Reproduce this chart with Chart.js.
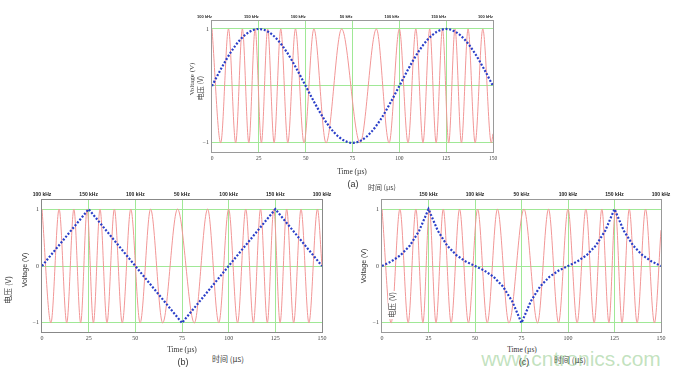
<!DOCTYPE html>
<html>
<head>
<meta charset="utf-8">
<script src="https://cdn.jsdelivr.net/npm/chart.js@4.4.1/dist/chart.umd.min.js"></script>
<style>
  body { margin: 0; background: #fff; width: 680px; height: 375px; overflow: hidden; position: relative; }
  canvas { position: absolute; }
  .t { position: absolute; white-space: nowrap; transform: translate(-50%, -50%); color: #333; line-height: 1; }
  .r { transform: translate(-50%, -50%) rotate(-90deg); }
  .serif { font-family: "Liberation Serif", "DejaVu Serif", serif; }
  .sans { font-family: "Liberation Sans", Arial, sans-serif; }
  .cjk { font-family: "Noto Sans CJK SC", sans-serif; color: #444; }
</style>
</head>
<body>
<canvas id="chart-a" width="330" height="170" style="left:180px;top:0px"></canvas>
<canvas id="chart-b" width="340" height="160" style="left:0px;top:185px"></canvas>
<canvas id="chart-c" width="340" height="160" style="left:340px;top:185px"></canvas>

<!-- panel (a) texts -->
<div class="t serif" style="left:352px;top:172px;font-size:7.5px">Time (µs)</div>
<div class="t sans" style="left:353px;top:184px;font-size:9px">(a)</div>
<div class="t cjk" style="left:382px;top:187px;font-size:7px">时间 (µs)</div>
<div class="t r serif" style="left:192px;top:79px;font-size:7px">Voltage (V)</div>
<div class="t r cjk" style="left:199.5px;top:88px;font-size:7px">电压 (V)</div>

<!-- panel (b) texts -->
<div class="t serif" style="left:182px;top:350px;font-size:7.5px">Time (µs)</div>
<div class="t sans" style="left:183px;top:362px;font-size:9px">(b)</div>
<div class="t cjk" style="left:228px;top:359px;font-size:8px">时间 (µs)</div>
<div class="t r sans" style="left:24px;top:270px;font-size:7px">Voltage (V)</div>
<div class="t r cjk" style="left:8px;top:290px;font-size:8px">电压 (V)</div>

<!-- panel (c) texts -->
<div class="t serif" style="left:522px;top:350px;font-size:7.5px">Time (µs)</div>
<div class="t sans" style="left:524px;top:362px;font-size:9px">(c)</div>
<div class="t cjk" style="left:570px;top:360px;font-size:8px">时间 (µs)</div>
<div class="t r sans" style="left:363px;top:266px;font-size:7px">Voltage (V)</div>
<div class="t r cjk" style="left:392px;top:305px;font-size:7.5px;background:#fff;padding:0 1px">电压 (V)</div>
<div class="t sans" style="left:571px;top:358px;font-size:21px;color:rgba(110,185,100,0.42)">www.cntronics.com</div>

<script>
/* =====================
  Data
===================== */

// time axis (µs), same for the three panels
var xTicks = [0, 25, 50, 75, 100, 125, 150];
var xTickLabels = ['0', '25', '50', '75', '100', '125', '150'];
var yTicks = [-1, 0, 1];
var yTickLabelsA = ['\u2212' + '1', '', '1'];
var yTickLabelsBC = ['\u2212' + '1', '0', '1'];

// instantaneous frequency written above each plot
var freqLabelsA = ['100 kHz', '150 kHz', '100 kHz', '50 kHz', '100 kHz', '150 kHz', '100 kHz'];
var freqLabelsB = ['100 kHz', '150 kHz', '100 kHz', '50 kHz', '100 kHz', '150 kHz', '100 kHz'];
var freqLabelsC = ['', '150 kHz', '100 kHz', '50 kHz', '100 kHz', '150 kHz', '100 kHz'];

// modulating signals (blue dots)
var modTime = [0, 5, 10, 15, 20, 25, 30, 35, 40, 45, 50, 55, 60, 65, 70, 75, 80, 85, 90, 95, 100,
               105, 110, 115, 120, 125, 130, 135, 140, 145, 150];
var modA = [0, 0.31, 0.59, 0.81, 0.95, 1, 0.95, 0.81, 0.59, 0.31, 0, -0.31, -0.59, -0.81, -0.95, -1,
            -0.95, -0.81, -0.59, -0.31, 0, 0.31, 0.59, 0.81, 0.95, 1, 0.95, 0.81, 0.59, 0.31, 0];
var modTimeB = [0, 25, 75, 125, 150];
var modB = [0, 1, -1, 1, 0];
var modC = [0, 0.08, 0.19, 0.36, 0.62, 1, 0.62, 0.36, 0.19, 0.08, 0, -0.08, -0.19, -0.36, -0.62, -1,
            -0.62, -0.36, -0.19, -0.08, 0, 0.08, 0.19, 0.36, 0.62, 1, 0.62, 0.36, 0.19, 0.08, 0];

// FM carrier (red): where each peak / trough sits, and its level
var fmTimeA = [0, 4.65, 8.81, 12.63, 16.22, 19.66, 23.03, 26.36, 29.72, 33.15, 36.7, 40.47, 44.55, 49.1,
               54.39, 60.87, 69.2, 79.05, 87.76, 94.54, 100, 104.65, 108.81, 112.63, 116.22, 119.66,
               123.03, 126.36, 129.72, 133.15, 136.7, 140.47, 144.55, 149.1, 150];
var fmA = [1, -1, 1, -1, 1, -1, 1, -1, 1, -1, 1, -1, 1, -1, 1, -1, 1, -1, 1, -1, 1, -1, 1, -1, 1, -1,
           1, -1, 1, -1, 1, -1, 1, -1, -0.84];
var fmTimeB = [0, 4.77, 9.16, 13.25, 17.08, 20.71, 24.16, 27.54, 31.08, 34.81, 38.76, 42.99, 47.56, 52.57,
               58.17, 64.64, 72.61, 81.62, 88.73, 94.72, 100, 104.77, 109.16, 113.25, 117.08, 120.71,
               124.16, 127.54, 131.08, 134.81, 138.76, 142.99, 147.56, 150];
var fmB = [1, -1, 1, -1, 1, -1, 1, -1, 1, -1, 1, -1, 1, -1, 1, -1, 1, -1, 1, -1, 1, -1, 1, -1, 1, -1,
           1, -1, 1, -1, 1, -1, 1, 0];
var fmTimeC = [0, 4.91, 9.62, 14.07, 18.21, 22.01, 25.48, 29.03, 32.93, 37.16, 41.69, 46.46, 51.43, 56.58,
               62.07, 68.22, 76.34, 83.64, 89.54, 94.91, 100, 104.91, 109.62, 114.07, 118.21, 122.01,
               125.48, 129.03, 132.93, 137.16, 141.69, 146.46, 150];
var fmC = [1, -1, 1, -1, 1, -1, 1, -1, 1, -1, 1, -1, 1, -1, 1, -1, 1, -1, 1, -1, 1, -1, 1, -1, 1, -1,
           1, -1, 1, -1, 1, -1, 0.63];

/* =====================
  Chart setup
===================== */

var gridGreen = 'rgb(160,232,150)';

// grey box round the plot area
var framePlugin = {
  id: 'frame',
  beforeDatasetsDraw: function(chart, args, opts) {
    var a = chart.chartArea;
    var ctx = chart.ctx;
    ctx.save();
    ctx.strokeStyle = opts.color;
    ctx.lineWidth = 1;
    ctx.strokeRect(Math.round(a.left) - 0.5, Math.round(a.top) - 0.5,
                   Math.round(a.right - a.left) + 1, Math.round(a.bottom - a.top) + 1);
    ctx.restore();
  }
};

var toPoints = function(xs, ys) {
  return xs.map(function(x, i) { return {x: x, y: ys[i]}; });
};

var fmChart = function(id, p) {
  return new Chart(document.getElementById(id), {
    type: 'line',
    data: {
      datasets: [{
        data: toPoints(p.modT, p.mod),
        borderColor: '#2a3ec8',
        borderWidth: 2.2,
        borderDash: [2, 1.7],
        pointRadius: 0,
        tension: 0,
        cubicInterpolationMode: p.smoothMod ? 'monotone' : 'default'
      }, {
        data: toPoints(p.fmT, p.fm),
        borderColor: 'rgb(242,150,150)',
        borderWidth: 1,
        pointRadius: 0,
        cubicInterpolationMode: 'monotone'
      }]
    },
    options: {
      responsive: false,
      animation: false,
      events: [],
      layout: {padding: {right: p.right}},
      plugins: {
        legend: {display: false},
        tooltip: {enabled: false},
        frame: {color: p.frameColor}
      },
      scales: {
        x: {
          type: 'linear', position: 'bottom', min: 0, max: 150,
          afterBuildTicks: function(s) { s.ticks = xTicks.map(function(v) { return {value: v}; }); },
          afterFit: function(s) { s.height = p.bottom; },
          border: {display: false},
          grid: {
            drawTicks: false,
            color: function(c) {
              return (c.tick && c.tick.value > 0 && c.tick.value < 150) ? gridGreen : 'rgba(0,0,0,0)';
            }
          },
          ticks: {
            padding: 3, color: '#444',
            font: {family: 'Liberation Serif', size: p.tickSize},
            callback: function(v, i) { return xTickLabels[i]; }
          }
        },
        x2: {
          type: 'linear', position: 'top', min: 0, max: 150,
          afterBuildTicks: function(s) { s.ticks = xTicks.map(function(v) { return {value: v}; }); },
          afterFit: function(s) { s.height = p.top; },
          border: {display: false},
          grid: {display: false, drawTicks: false},
          ticks: {
            padding: 2, color: '#222', align: p.freqAlign,
            font: {family: 'Liberation Sans', size: p.freqSize, weight: 'bold'},
            callback: function(v, i) { return p.freqLabels[i]; }
          }
        },
        y: {
          min: p.ymin, max: p.ymax,
          afterBuildTicks: function(s) { s.ticks = yTicks.map(function(v) { return {value: v}; }); },
          afterFit: function(s) { s.width = p.left; },
          border: {display: false},
          grid: {drawTicks: false, color: gridGreen},
          ticks: {
            padding: 3, color: '#444',
            font: {family: 'Liberation Serif', size: 6},
            callback: function(v, i) { return p.yLabels[i]; }
          }
        }
      }
    },
    plugins: [framePlugin]
  });
};

fmChart('chart-a', {
  modT: modTime, mod: modA, smoothMod: true, fmT: fmTimeA, fm: fmA,
  freqLabels: freqLabelsA, freqAlign: 'end', freqSize: 4, tickSize: 5.5, yLabels: yTickLabelsA,
  ymin: -1.16, ymax: 1.14, left: 32, right: 17, top: 21, bottom: 18, frameColor: '#9a9a9a'
});
fmChart('chart-b', {
  modT: modTimeB, mod: modB, smoothMod: false, fmT: fmTimeB, fm: fmB,
  freqLabels: freqLabelsB, freqAlign: 'center', freqSize: 5, tickSize: 6, yLabels: yTickLabelsBC,
  ymin: -1.16, ymax: 1.16, left: 42, right: 18, top: 15, bottom: 13, frameColor: '#888'
});
fmChart('chart-c', {
  modT: modTime, mod: modC, smoothMod: false, fmT: fmTimeC, fm: fmC,
  freqLabels: freqLabelsC, freqAlign: 'center', freqSize: 5, tickSize: 6, yLabels: yTickLabelsBC,
  ymin: -1.16, ymax: 1.16, left: 42, right: 19, top: 15, bottom: 13, frameColor: '#999'
});
</script>
</body>
</html>
